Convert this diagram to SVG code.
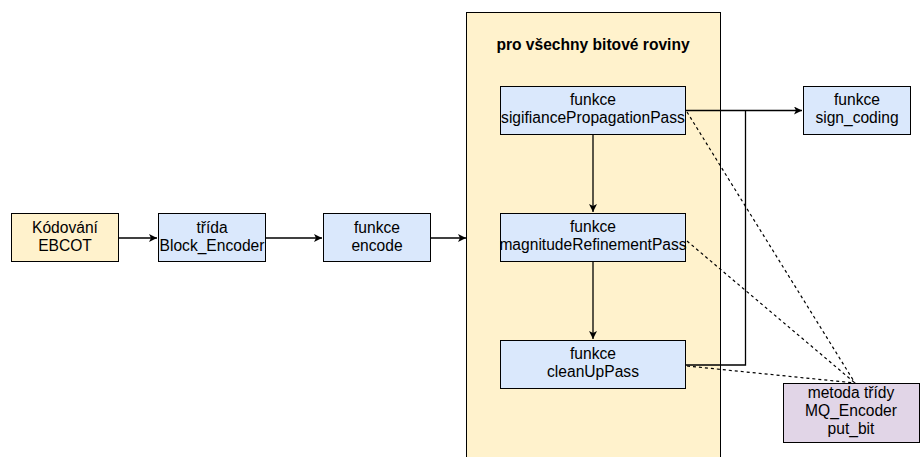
<svg xmlns="http://www.w3.org/2000/svg" width="920" height="457" viewBox="0 0 920 457">
  <style>
    .box { stroke: #000; stroke-width: 1; }
    .yellow { fill: #fff2cc; }
    .blue { fill: #dae8fc; }
    .purple { fill: #e1d5e7; }
    text { font-family: "Liberation Sans", Arial, sans-serif; font-size: 15.6px; fill: #000; text-anchor: middle; }
    .bold { font-weight: bold; }
    .edge { fill: none; stroke: #000; stroke-width: 1.3; }
    .dash { fill: none; stroke: #000; stroke-width: 1.2; stroke-dasharray: 3 3; }
  </style>
  <defs>
    <marker id="arrow" viewBox="0 0 10 10" refX="10" refY="5" markerWidth="8" markerHeight="8" markerUnits="userSpaceOnUse" orient="auto">
      <path d="M0,0 L10,5 L0,10 L2.5,5 Z" fill="#000"/>
    </marker>
  </defs>
  <rect width="920" height="457" fill="#fff"/>

  <g id="loop">
    <rect class="box yellow" x="466.5" y="12.5" width="254" height="460"/>
    <text class="bold" x="593" y="50">pro všechny bitové roviny</text>
  </g>

  <g id="connectors">
    <path class="edge" d="M119,238 H157" marker-end="url(#arrow)"/>
    <path class="edge" d="M266,238 H322" marker-end="url(#arrow)"/>
    <path class="edge" d="M431,238 H466" marker-end="url(#arrow)"/>
    <path class="edge" d="M593,135 V212" marker-end="url(#arrow)"/>
    <path class="edge" d="M593,262 V339" marker-end="url(#arrow)"/>
    <path class="edge" d="M686,110.5 H802" marker-end="url(#arrow)"/>
    <path class="edge" d="M686,365 H745.5 V110.5"/>
    <path class="dash" d="M687,112 L855,383"/>
    <path class="dash" d="M687,241 L855,383"/>
    <path class="dash" d="M687,366 L855,383"/>
  </g>

  <g id="ebcot">
    <rect class="box yellow" x="11.5" y="213.5" width="107" height="48"/>
    <text x="65" y="233">Kódování</text>
    <text x="65" y="251">EBCOT</text>
  </g>
  <g id="block-encoder">
    <rect class="box blue" x="158.5" y="213.5" width="107" height="48"/>
    <text x="212" y="233">třída</text>
    <text x="212" y="251">Block_Encoder</text>
  </g>
  <g id="encode">
    <rect class="box blue" x="323.5" y="213.5" width="107" height="48"/>
    <text x="377" y="233">funkce</text>
    <text x="377" y="251">encode</text>
  </g>
  <g id="significance">
    <rect class="box blue" x="500.5" y="86.5" width="185" height="48"/>
    <text x="593" y="105">funkce</text>
    <text x="593" y="123">sigifiancePropagationPass</text>
  </g>
  <g id="magnitude">
    <rect class="box blue" x="500.5" y="213.5" width="185" height="48"/>
    <text x="593" y="232">funkce</text>
    <text x="593" y="250">magnitudeRefinementPass</text>
  </g>
  <g id="cleanup">
    <rect class="box blue" x="500.5" y="340.5" width="185" height="48"/>
    <text x="593" y="359">funkce</text>
    <text x="593" y="377">cleanUpPass</text>
  </g>
  <g id="sign-coding">
    <rect class="box blue" x="803.5" y="86.5" width="107" height="48"/>
    <text x="857" y="105">funkce</text>
    <text x="857" y="123">sign_coding</text>
  </g>
  <g id="put-bit">
    <rect class="box purple" x="783.5" y="383.5" width="136" height="59"/>
    <text x="851" y="398">metoda třídy</text>
    <text x="851" y="416">MQ_Encoder</text>
    <text x="851" y="434">put_bit</text>
  </g>
</svg>
